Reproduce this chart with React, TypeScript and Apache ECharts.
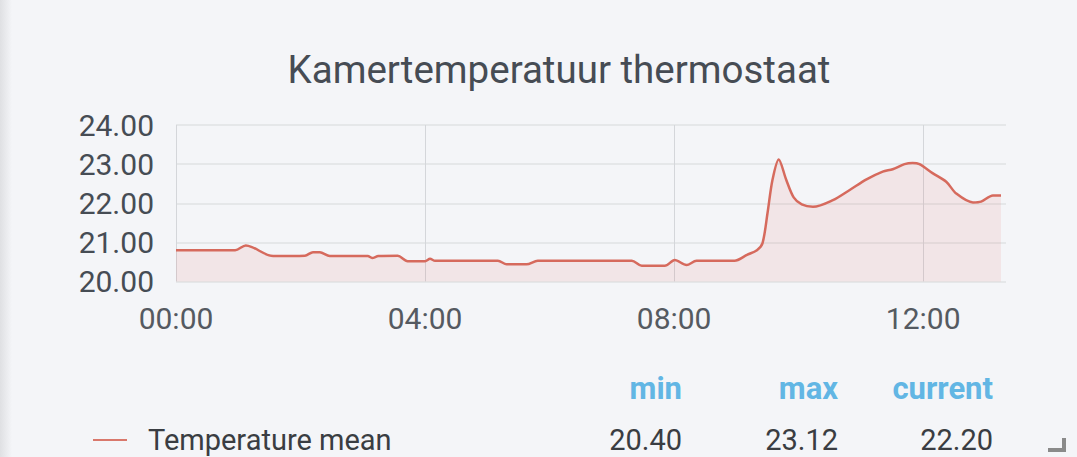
import React, { useEffect, useRef } from "react";
import * as echarts from "echarts";

const titleText = "Kamertemperatuur thermostaat";
const seriesName = "Temperature mean";

// time of day in hours
const hours = [
  0, 0.95, 1.12, 1.22, 1.56, 2.07, 2.2, 2.31, 2.47, 3.08, 3.15, 3.25, 3.56, 3.72, 4.0, 4.08, 4.16,
  5.17, 5.31, 5.63, 5.81, 7.32, 7.48, 7.85, 8.01, 8.2, 8.36, 8.97, 9.17, 9.33, 9.42, 9.5, 9.58,
  9.68, 9.8, 9.92, 10.05, 10.23, 10.55, 10.82, 11.09, 11.35, 11.51, 11.7, 11.83, 11.94, 12.15,
  12.37, 12.53, 12.8, 12.93, 13.12, 13.25,
];
const temps = [
  20.8, 20.8, 20.92, 20.88, 20.65, 20.66, 20.75, 20.75, 20.65, 20.65, 20.6, 20.65, 20.66, 20.52,
  20.52, 20.58, 20.53, 20.53, 20.44, 20.44, 20.53, 20.53, 20.4, 20.4, 20.55, 20.42, 20.53, 20.53,
  20.68, 20.8, 20.98, 21.75, 22.6, 23.12, 22.6, 22.15, 21.97, 21.91, 22.08, 22.34, 22.61, 22.81,
  22.87, 23.0, 23.03, 23.0, 22.77, 22.55, 22.25, 22.02, 22.04, 22.2, 22.2,
];

const statHeaders = ["min", "max", "current"];
const statValues = ["20.40", "23.12", "22.20"];

const BG = "#f4f5f8";

export default function App() {
  const ref = useRef<HTMLDivElement>(null);
  useEffect(() => {
    if (!ref.current) return;
    const chart = echarts.init(ref.current, undefined, { renderer: "svg" });
    const statX = [682, 838, 993];
    const graphics: any[] = [
      {
        type: "rect",
        z: -10,
        shape: { x: 0, y: 0, width: 12, height: 457 },
        style: {
          fill: new echarts.graphic.LinearGradient(0, 0, 1, 0, [
            { offset: 0, color: "#dfe0e3" },
            { offset: 1, color: BG },
          ]),
        },
      },
      {
        type: "text",
        x: 559,
        y: 69,
        style: {
          text: titleText,
          fontFamily: "Roboto",
          fontSize: 38.5,
          fill: "#464c54",
          textAlign: "center",
          textVerticalAlign: "middle",
        },
      },
      {
        type: "line",
        shape: { x1: 93, y1: 440, x2: 127, y2: 440 },
        style: { stroke: "#d9786c", lineWidth: 2 },
      },
      {
        type: "text",
        x: 148,
        y: 425,
        style: {
          text: seriesName,
          fontFamily: "Roboto",
          fontSize: 29,
          fill: "#3a3d42",
          textAlign: "left",
          textVerticalAlign: "top",
        },
      },
    ];
    statHeaders.forEach((h, i) => {
      graphics.push({
        type: "text",
        x: statX[i],
        y: 388,
        style: {
          text: h,
          fontFamily: "Roboto",
          fontSize: 31,
          fontWeight: "bold",
          fill: "#62b6e4",
          textAlign: "right",
          textVerticalAlign: "middle",
        },
      });
      graphics.push({
        type: "text",
        x: statX[i],
        y: 425,
        style: {
          text: statValues[i],
          fontFamily: "Roboto",
          fontSize: 29,
          fill: "#3a3d42",
          textAlign: "right",
          textVerticalAlign: "top",
        },
      });
    });
    graphics.push({
      type: "polyline",
      z: 101,
      shape: { points: [[1064, 438], [1064, 450], [1048, 450]] },
      style: { stroke: "#8a8a8a", lineWidth: 4, fill: "none" },
    });

    chart.setOption({
      animation: false,
      backgroundColor: BG,
      grid: { left: 176, right: 71, top: 125, bottom: 175.5 },
      xAxis: {
        type: "value",
        min: 0,
        max: 13.33,
        interval: 4,
        axisLine: { show: false },
        axisTick: { show: false },
        axisLabel: {
          showMaxLabel: false,
          fontFamily: "Roboto",
          fontSize: 30,
          color: "#555a61",
          margin: 22,
          formatter: (v: number) => String(Math.round(v)).padStart(2, "0") + ":00",
        },
        splitLine: { show: true, showMaxLine: false, lineStyle: { color: "#d4d6da", width: 1 } },
      },
      yAxis: {
        type: "value",
        min: 20,
        max: 24,
        interval: 1,
        axisLine: { show: false },
        axisTick: { show: false },
        axisLabel: {
          fontFamily: "Roboto",
          fontSize: 30,
          color: "#464c54",
          margin: 22,
          formatter: (v: number) => v.toFixed(2),
        },
        splitLine: { show: true, lineStyle: { color: "#e0e2e5", width: 1.5 } },
      },
      series: [
        {
          name: seriesName,
          type: "line",
          data: hours.map((h, i) => [h, temps[i]]),
          showSymbol: false,
          smooth: 0.3,
          lineStyle: { color: "#d66a5d", width: 2.5 },
          areaStyle: { color: "rgba(226,77,66,0.13)", origin: "start" },
        },
      ],
      graphic: graphics,
    });
    return () => chart.dispose();
  }, []);
  return (
    <div
      ref={ref}
      style={{ position: "fixed", left: 0, top: 0, width: 1077, height: 457 }}
    />
  );
}
